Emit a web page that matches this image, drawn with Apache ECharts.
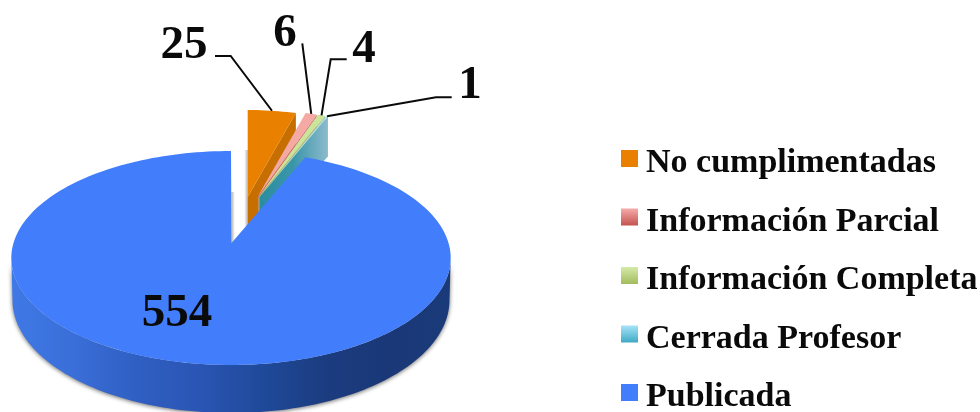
<!DOCTYPE html>
<html><head><meta charset="utf-8">
<style>html,body{margin:0;padding:0;background:#fff}#c{width:980px;height:412px}</style>
<script src="https://cdn.jsdelivr.net/npm/echarts@6/dist/echarts.min.js"></script>
</head><body><div id="c"></div>
<script>
// ---- data ----
const categories = ['No cumplimentadas','Información Parcial','Información Completa','Cerrada Profesor','Publicada'];
const values = [25, 6, 4, 1, 554];

// ---- layout and style (not data) ----
const FONT = '"Liberation Serif","DejaVu Serif",serif';
const mainPie = {apexX:231.5, apexY:243, cx:231, cy:258, rx:219.7, ry:107, bottomCy:300, bottomRx:218.5, bottomRy:113, viewSkew:2.2};
const explodedPie = {apexY:197, rx:183, ry:87, depth:40};
const explodeX = [247.7, 257.5, 258.5, 259.5];
const topColors = ['#EA8000','#F4A9A5','#CBE39B','#A9E1F2','#427EFB'];
const sideColors = ['#C76E00','#C9605C','#A5BC66',null];
const leaders = [
  [[230.7,56],[215,56]],
  [[302.3,43.3]],
  [[330.7,59.3],[346.7,59.3]],
  [[436,97.3],[451.7,97.3]]
];
const labelPos = [[184,46],[285,34],[364,50],[470,86]];
const LG = (stops, h) => new echarts.graphic.LinearGradient(0,0,h?1:0,h?0:1,stops.map((c,i)=>({offset:i/(stops.length-1),color:c})));
const legendColors = [
  '#EA8000',
  LG(['#F6ACA8','#C4524F']),
  LG(['#D5EAA9','#A2BC5E']),
  LG(['#A6E3F8','#3FA9C4']),
  '#427EFB'
];
const total = values.reduce((a,b)=>a+b,0);
const arc = (cx,cy,rx,ry,a0,a1) => {
  const n = Math.max(2, Math.ceil(Math.abs(a1-a0)/1.5)), out = [];
  for (let i=0;i<=n;i++){ const t=(a0+(a1-a0)*i/n)*Math.PI/180; out.push([cx+rx*Math.sin(t), cy-ry*Math.cos(t)]); }
  return out;
};
const poly = (points, fill, extra) => ({type:'polygon', shape:{points}, style:Object.assign({fill, stroke:null}, extra||{})});
const digit = (x,y,text) => ({type:'text', x, y, style:{text:String(text), fill:'#0a0a0a', font:'bold 47px '+FONT, align:'center', verticalAlign:'middle'}});

function renderSlice(params, api){
  const i = params.seriesIndex;
  const before = values.slice(0,i).reduce((a,b)=>a+b,0);
  const a0 = before/total*360, a1 = (before+api.value(0))/total*360;
  const ch = [];
  if (i < 4) {
    const e = explodedPie, ax = explodeX[i], ay = e.apexY;
    const outer = arc(ax,ay,e.rx,e.ry,a0,a1), end = outer[outer.length-1];
    const side = [end,[ax,ay],[ax,ay+e.depth],[end[0],end[1]+e.depth]];
    if (i===0) ch.push({type:'rect', shape:{x:ax-3.4,y:ay-47,width:3.4,height:76}, style:{fill:LG(['#ffffff','#b4b4b4'],true)}});
    ch.push(poly(side, i===3 ? LG(['#2A8D9F','#3B96AA','#8DBACD'],true) : sideColors[i]));
    ch.push(poly([[ax,ay]].concat(outer), topColors[i]));
    const mid = arc(ax,ay,e.rx,e.ry,(a0+a1)/2,(a0+a1)/2+.1)[0];
    ch.push({type:'polyline', shape:{points:[mid].concat(leaders[i])}, style:{stroke:'#0a0a0a', lineWidth:2, fill:null}});
    ch.push(digit(labelPos[i][0],labelPos[i][1],api.value(0)));
  } else {
    const m = mainPie;
    ch.push({type:'rect', shape:{x:m.apexX,y:192,width:3.4,height:51}, style:{fill:LG(['#b4b4b4','#ffffff'],true)}});
    const upper = arc(m.cx,m.cy,m.rx,m.ry,90,270);
    const lower = arc(m.cx,m.bottomCy,m.bottomRx,m.bottomRy,270,90);
    ch.push(poly(upper.concat(lower), LG(['#3F79E6','#3A6ED8','#2F5FC2','#2A55B4','#1F4A9A','#1B3C80','#1A3877','#1A3A7A'],true),
      {shadowColor:'rgba(60,60,60,.75)', shadowBlur:4, shadowOffsetY:1}));
    ch.push(poly([[m.apexX,m.apexY]].concat(arc(m.cx,m.cy,m.rx,m.ry,a0-m.viewSkew,a1)), topColors[4]));
    ch.push(digit(177,314,api.value(0)));
  }
  return {type:'group', children:ch};
}

const chart = echarts.init(document.getElementById('c'), null, {renderer:'canvas'});
chart.setOption({
  animation:false,
  legend:{
    orient:'vertical', left:621, top:136.5, itemWidth:17, itemHeight:17, itemGap:14.5, padding:0,
    icon:'rect', selectedMode:false, height:330,
    formatter:n=>'{t|'+n+'}',
    textStyle:{rich:{t:{fontFamily:FONT, fontWeight:'bold', fontSize:34, color:'#0a0a0a', lineHeight:34, padding:[10,0,0,3]}}},
    data:categories.map((name,i)=>({name, itemStyle:{color:legendColors[i]}}))
  },
  series:categories.map((name,i)=>({
    type:'custom', name, coordinateSystem:'none', renderItem:renderSlice, silent:true,
    itemStyle:{color:typeof legendColors[i]==='string'?legendColors[i]:topColors[i]},
    data:[[values[i]]]
  }))
});
</script></body></html>
